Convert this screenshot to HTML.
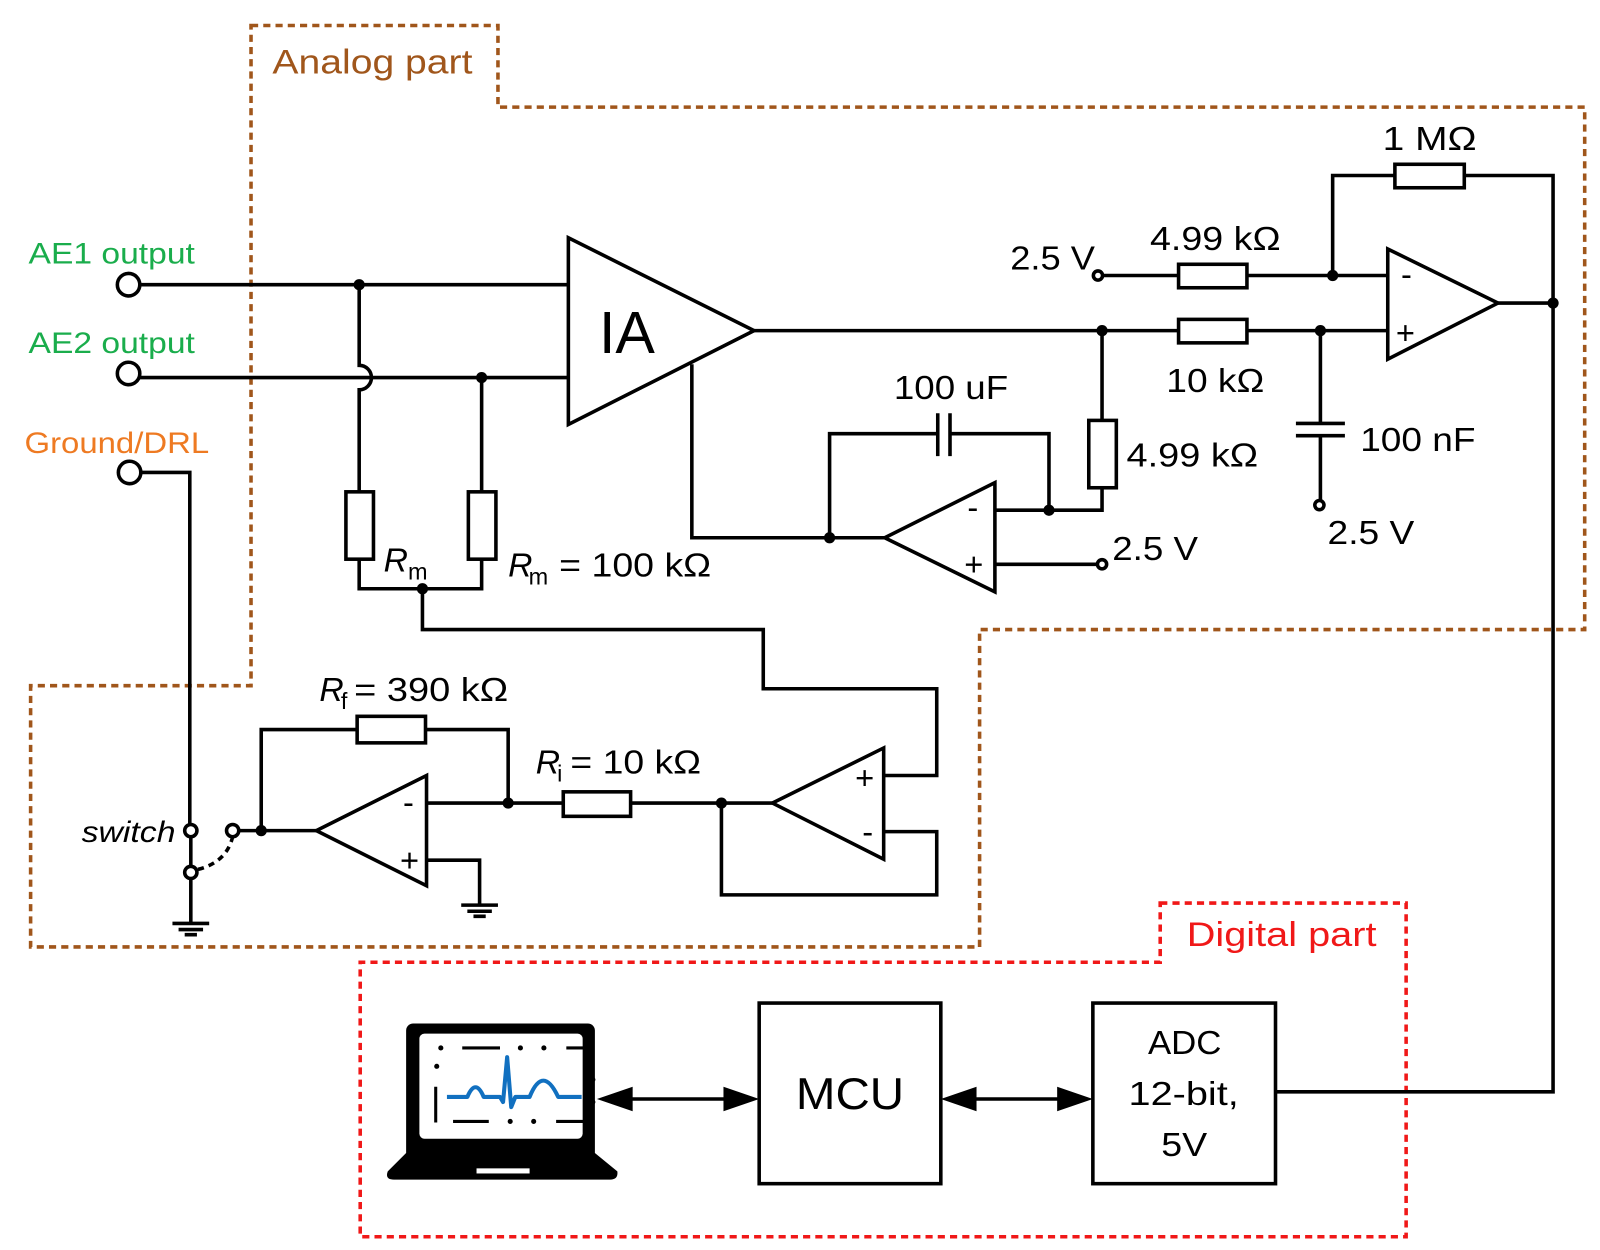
<!DOCTYPE html>
<html><head><meta charset="utf-8"><style>
html,body{margin:0;padding:0;background:#fff;width:1600px;height:1250px;overflow:hidden}
svg{display:block}
text{font-family:"Liberation Sans",sans-serif}
</style></head><body>
<svg width="1600" height="1250" viewBox="0 0 1568 1225" preserveAspectRatio="none" xmlns="http://www.w3.org/2000/svg">
<path d="M246,25 H488 V105 H1553 V617 H960 V928 H30 V672 H246 Z" fill="none" stroke="#a0561b" stroke-width="3.5" stroke-dasharray="7,5"/>
<path d="M1137,885 H1378 V1212 H353 V943 H1137 Z" fill="none" stroke="#f01818" stroke-width="3.5" stroke-dasharray="7,5"/>
<text x="267" y="72" font-size="34" fill="#a0561b" textLength="196" lengthAdjust="spacingAndGlyphs">Analog part</text>
<text x="1163" y="927" font-size="34" fill="#f01818" textLength="186" lengthAdjust="spacingAndGlyphs">Digital part</text>
<text x="28" y="258" font-size="29" fill="#1aad4c" textLength="163" lengthAdjust="spacingAndGlyphs">AE1 output</text>
<text x="28" y="346" font-size="29" fill="#1aad4c" textLength="163" lengthAdjust="spacingAndGlyphs">AE2 output</text>
<text x="24" y="444" font-size="29" fill="#ee7a22" textLength="181" lengthAdjust="spacingAndGlyphs">Ground/DRL</text>

<g fill="none" stroke="#000" stroke-width="3.5">
<circle cx="126" cy="279" r="11"/><circle cx="126" cy="366" r="11"/><circle cx="127" cy="463" r="11"/>
<path d="M137,279 H557"/>
<path d="M137,370 H557"/>
<path d="M352,279 V358 A12,12 0 0 1 352,382 V482"/>
<rect x="339" y="482" width="27" height="66"/>
<path d="M472,370 V482"/>
<rect x="459" y="482" width="27" height="66"/>
<path d="M352,548 V577 H472 V548"/>
<path d="M414,577 V617 H748 V675 H918 V760 H866"/>
<path d="M557,233 V416 L739,324 Z"/>
<path d="M739,324 H1155 M1222,324 H1360"/>
<rect x="1155" y="313" width="67" height="23"/>
<circle cx="1076" cy="270" r="4.5"/>
<path d="M1080,270 H1155 M1222,270 H1360"/>
<rect x="1155" y="259" width="67" height="23"/>
<path d="M1306,270 V172 H1367 M1435,172 H1522 V1070 H1250"/>
<rect x="1367" y="161" width="68" height="23"/>
<path d="M1360,244 V352 L1468,297 Z"/>
<path d="M1468,297 H1522"/>
<path d="M1294,324 V415 M1270,415 H1318 M1270,427 H1318 M1294,427 V490"/>
<circle cx="1293" cy="495" r="4.5"/>
<path d="M1080,324 V412"/>
<rect x="1067" y="412" width="27" height="66"/>
<path d="M1080,478 V500 H975"/>
<path d="M975,473 V580 L867,527 Z"/>
<path d="M1028,500 V425 H931 M919,425 H813 V527 M919,405 V447 M931,405 V447"/>
<path d="M867,527 H678 V357"/>
<path d="M975,553 H1076"/>
<circle cx="1080" cy="553" r="4.5"/>
<path d="M418,760 V868 L310,814 Z"/>
<path d="M418,787 H552 M618,787 H757"/>
<rect x="552" y="776" width="66" height="24"/>
<path d="M498,787 V715 H417 M350,715 H256 V814"/>
<rect x="350" y="702" width="67" height="26"/>
<path d="M310,814 H234"/>
<circle cx="228" cy="814" r="6"/>
<path d="M418,843 H470 V887"/>
<path d="M866,733 V842 L757,787 Z"/>
<path d="M866,815 H918 V877 H707 V787"/>
<path d="M138,463 H186 V808"/>
<circle cx="187" cy="814" r="6"/><circle cx="187" cy="855" r="6"/>
<path d="M187,820 V849 M187,861 V905"/>
<path d="M194,852 Q222,845 228,820" stroke-dasharray="6,5"/>
<path d="M169,905 H205 M175,911 H199 M181,916 H193"/>
<path d="M452,887 H488 M458,893 H482 M464,898 H476"/>
<rect x="744" y="983" width="178" height="177"/>
<rect x="1071" y="983" width="179" height="177"/>
<path d="M605,1077 H724 M942,1077 H1051"/>
</g>
<g fill="#000">
<circle cx="352" cy="279" r="5.5"/><circle cx="472" cy="370" r="5.5"/><circle cx="414" cy="577" r="5.5"/>
<circle cx="1080" cy="324" r="5.5"/><circle cx="1294" cy="324" r="5.5"/><circle cx="1306" cy="270" r="5.5"/>
<circle cx="1522" cy="297" r="5.5"/><circle cx="1028" cy="500" r="5.5"/><circle cx="813" cy="527" r="5.5"/>
<circle cx="498" cy="787" r="5.5"/><circle cx="707" cy="787" r="5.5"/><circle cx="256" cy="814" r="5.5"/>
<path d="M585,1077 L620,1065 V1089 Z"/><path d="M744,1077 L709,1065 V1089 Z"/>
<path d="M922,1077 L957,1065 V1089 Z"/><path d="M1071,1077 L1036,1065 V1089 Z"/>
<rect x="398" y="1003" width="185" height="140" rx="7"/>
<path d="M398,1130 H583 L605,1148 Q606,1156 598,1156 H386 Q377,1156 380,1148 Z"/>
</g>
<rect x="411" y="1013" width="160" height="103" rx="5" fill="#fff"/>
<rect x="467" y="1145" width="52" height="5" fill="#fff"/>
<g stroke="#000" stroke-width="3" fill="none">
<path d="M453,1027 H490 M555,1027 H578 M444,1099 H479 M545,1099 H578 M427,1065 V1100"/>
</g>
<g fill="#000"><circle cx="432" cy="1027" r="2.5"/><circle cx="510" cy="1027" r="2.5"/><circle cx="533" cy="1027" r="2.5"/><circle cx="428" cy="1045" r="2.5"/><circle cx="500" cy="1099" r="2.5"/><circle cx="523" cy="1099" r="2.5"/><circle cx="581" cy="1058" r="2.5"/><circle cx="581" cy="1080" r="2.5"/></g>
<path d="M438,1075 H458 Q466,1056 474,1075 H490 L493,1080 L497,1036 L501,1085 L505,1075 H519 Q532,1043 547,1075 H570" fill="none" stroke="#1170c0" stroke-width="4" stroke-linejoin="round"/>

<g font-size="33" fill="#000">
<text x="587" y="346" font-size="58">IA</text>
<text x="1355" y="147" textLength="92" lengthAdjust="spacingAndGlyphs">1 MΩ</text>
<text x="1127" y="245" textLength="128" lengthAdjust="spacingAndGlyphs">4.99 kΩ</text>
<text x="990" y="264" textLength="83" lengthAdjust="spacingAndGlyphs">2.5 V</text>
<text x="1143" y="384" textLength="96" lengthAdjust="spacingAndGlyphs">10 kΩ</text>
<text x="1333" y="442" textLength="113" lengthAdjust="spacingAndGlyphs">100 nF</text>
<text x="1301" y="533" textLength="85" lengthAdjust="spacingAndGlyphs">2.5 V</text>
<text x="1104" y="457" textLength="129" lengthAdjust="spacingAndGlyphs">4.99 kΩ</text>
<text x="876" y="391" textLength="112" lengthAdjust="spacingAndGlyphs">100 uF</text>
<text x="1090" y="549" textLength="84" lengthAdjust="spacingAndGlyphs">2.5 V</text>
<text x="376" y="560" font-style="italic">R<tspan font-style="normal" font-size="23" dy="8">m</tspan></text>
<text x="498" y="565" font-style="italic">R</text><text x="518" y="573" font-size="23">m</text><text x="548" y="565" textLength="149" lengthAdjust="spacingAndGlyphs">= 100 kΩ</text>
<text x="313" y="687" font-style="italic">R</text><text x="334" y="695" font-size="23">f</text><text x="347" y="687" textLength="151" lengthAdjust="spacingAndGlyphs">= 390 kΩ</text>
<text x="525" y="758" font-style="italic">R</text><text x="546" y="766" font-size="23">i</text><text x="559" y="758" textLength="128" lengthAdjust="spacingAndGlyphs">= 10 kΩ</text>
<text x="80" y="825" font-style="italic" font-size="29" textLength="92" lengthAdjust="spacingAndGlyphs">switch</text>
<text x="1373" y="280" font-size="32">-</text>
<text x="1368" y="337" font-size="32">+</text>
<text x="948" y="508" font-size="32">-</text>
<text x="945" y="564" font-size="32">+</text>
<text x="395" y="797" font-size="32">-</text>
<text x="392" y="854" font-size="32">+</text>
<text x="838" y="773" font-size="32">+</text>
<text x="845" y="826" font-size="32">-</text>
<text x="780" y="1087" font-size="44" textLength="106" lengthAdjust="spacingAndGlyphs">MCU</text>
<text x="1125" y="1033" textLength="72" lengthAdjust="spacingAndGlyphs">ADC</text>
<text x="1106" y="1083" textLength="108" lengthAdjust="spacingAndGlyphs">12-bit,</text>
<text x="1138" y="1133" textLength="45" lengthAdjust="spacingAndGlyphs">5V</text>
</g>
</svg>
</body></html>
